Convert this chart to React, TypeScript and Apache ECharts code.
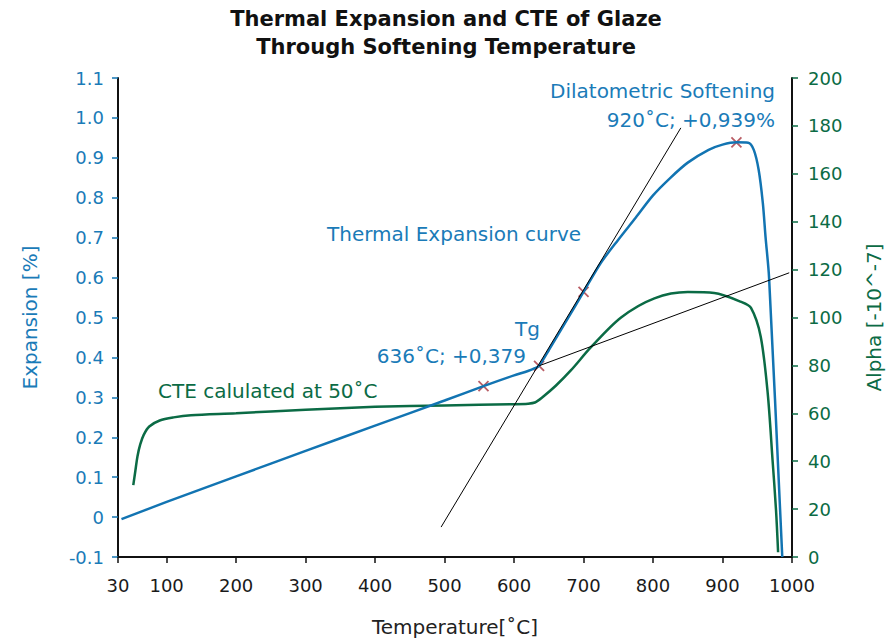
import React, { useEffect, useRef } from "react";
import * as echarts from "echarts";

const xTicks = [30, 100, 200, 300, 400, 500, 600, 700, 800, 900, 1000];

const expT = [35, 100, 200, 300, 400, 500, 556, 600, 620, 630, 636, 650, 675, 700, 725, 750, 775, 800, 825, 850, 880, 900, 920, 937, 945, 952, 958, 962, 967, 986];
const expV = [-0.005, 0.038, 0.102, 0.166, 0.229, 0.292, 0.328, 0.355, 0.366, 0.373, 0.379, 0.418, 0.491, 0.564, 0.637, 0.695, 0.75, 0.806, 0.85, 0.888, 0.92, 0.933, 0.939, 0.938, 0.92, 0.87, 0.787, 0.70, 0.60, -0.1];

const cteT = [52, 55, 58, 62, 67, 75, 90, 110, 135, 200, 300, 400, 500, 600, 620, 630, 640, 660, 682, 711, 754, 802, 850, 888, 927, 941, 955, 965, 972, 977, 980];
const cteA = [30, 36, 42, 47, 51, 54.5, 57, 58.3, 59.2, 60, 61.5, 62.7, 63.3, 63.8, 64, 64.5, 66.5, 71.5, 78, 87.7, 100, 108, 110.6, 110.2, 106.5, 104, 92, 68.5, 40.5, 19.6, 2];

const tangentSteepT = [495, 840];
const tangentSteepV = [-0.025, 0.975];
const tangentLowT = [636, 996];
const tangentLowV = [0.379, 0.612];

const markerT = [556, 636, 700, 920];
const markerV = [0.328, 0.379, 0.564, 0.939];

const BLUE = "#1274b2";
const BLUE_TXT = "#1a7bb8";
const GREEN = "#0b6b45";
const RED = "#a8343f";
const FONT = "'DejaVu Sans', sans-serif";

const zip = (a: number[], b: number[]) => a.map((v, i) => [v, b[i]]);

export default function App() {
  const ref = useRef<HTMLDivElement>(null);
  useEffect(() => {
    if (!ref.current) return;
    const chart = echarts.init(ref.current, undefined, { renderer: "svg" });
    chart.setOption({
      animation: false,
      backgroundColor: "#ffffff",
      textStyle: { fontFamily: FONT },
      title: {
        text: "Thermal Expansion and CTE of Glaze\nThrough Softening Temperature",
        left: "center",
        top: 0,
        textStyle: { fontSize: 21, fontWeight: "bold", color: "#111", lineHeight: 28, fontFamily: FONT },
      },
      grid: { left: 118, right: 100, top: 78, bottom: 84, containLabel: false, outerBoundsMode: "none" },
      xAxis: {
        type: "value",
        min: 30,
        max: 1000,
        name: "Temperature[˚C]",
        nameLocation: "middle",
        nameGap: 60,
        nameTextStyle: { fontSize: 20, color: "#222", fontFamily: FONT },
        axisLine: { onZero: false, lineStyle: { color: "#111", width: 2 } },
        axisTick: { customValues: xTicks, length: 6, lineStyle: { color: "#111", width: 1.5 } },
        axisLabel: { customValues: xTicks, fontSize: 18, color: "#1a1a1a", margin: 19, formatter: (v: number) => String(v) },
        splitLine: { show: false },
      },
      yAxis: [
        {
          type: "value",
          min: -0.1,
          max: 1.1,
          interval: 0.1,
          name: "Expansion [%]",
          nameLocation: "middle",
          nameGap: 78,
          nameTextStyle: { fontSize: 20, color: BLUE_TXT, fontFamily: FONT },
          axisLine: { show: true, onZero: false, lineStyle: { color: "#111", width: 2 } },
          axisTick: { show: true, length: 6, lineStyle: { color: BLUE, width: 1.5 } },
          axisLabel: {
            fontSize: 18,
            color: BLUE_TXT,
            margin: 14,
            formatter: (v: number) => {
              const r = Math.round(v * 10) / 10;
              return r === 0 ? "0" : r.toFixed(1);
            },
          },
          splitLine: { show: false },
        },
        {
          type: "value",
          min: 0,
          max: 200,
          interval: 20,
          position: "right",
          name: "Alpha [-10^-7]",
          nameLocation: "middle",
          nameRotate: 90,
          nameGap: 72,
          nameTextStyle: { fontSize: 20, color: GREEN, fontFamily: FONT },
          axisLine: { show: true, onZero: false, lineStyle: { color: "#111", width: 2 } },
          axisTick: { show: true, length: 6, lineStyle: { color: GREEN, width: 1.5 } },
          axisLabel: { fontSize: 18, color: GREEN, margin: 16 },
          splitLine: { show: false },
        },
      ],
      series: [
        {
          type: "line",
          name: "CTE",
          yAxisIndex: 1,
          data: zip(cteT, cteA),
          showSymbol: false,
          smooth: 0.3,
          lineStyle: { color: GREEN, width: 2.5 },
        },
        {
          type: "line",
          name: "Expansion",
          yAxisIndex: 0,
          data: zip(expT, expV),
          showSymbol: false,
          smooth: 0.3,
          lineStyle: { color: BLUE, width: 2.5 },
        },
        {
          type: "line",
          yAxisIndex: 0,
          data: zip(tangentSteepT, tangentSteepV),
          showSymbol: false,
          lineStyle: { color: "#000", width: 1 },
        },
        {
          type: "line",
          yAxisIndex: 0,
          data: zip(tangentLowT, tangentLowV),
          showSymbol: false,
          lineStyle: { color: "#000", width: 1 },
        },
        {
          type: "scatter",
          yAxisIndex: 0,
          data: zip(markerT, markerV),
          symbol: "path://M0 0L10 10M10 0L0 10",
          symbolSize: 10,
          itemStyle: { color: "none", borderColor: RED, borderWidth: 1.8 },
        },
      ],
      graphic: [
        { type: "text", right: 117, top: 81, style: { text: "Dilatometric Softening", fontSize: 20, fill: BLUE_TXT, fontFamily: FONT } },
        { type: "text", right: 117, top: 110, style: { text: "920˚C; +0,939%", fontSize: 20, fill: BLUE_TXT, fontFamily: FONT } },
        { type: "text", left: 327, top: 224, style: { text: "Thermal Expansion curve", fontSize: 20, fill: BLUE_TXT, fontFamily: FONT } },
        { type: "text", left: 515, top: 319, style: { text: "Tg", fontSize: 20, fill: BLUE_TXT, fontFamily: FONT } },
        { type: "text", right: 366, top: 346, style: { text: "636˚C; +0,379", fontSize: 20, fill: BLUE_TXT, fontFamily: FONT } },
        { type: "text", left: 158, top: 381, style: { text: "CTE calulated at 50˚C", fontSize: 20, fill: GREEN, fontFamily: FONT } },
      ],
    });
    return () => chart.dispose();
  }, []);
  return <div ref={ref} style={{ position: "absolute", left: 0, top: 0, width: 892, height: 641 }} />;
}
